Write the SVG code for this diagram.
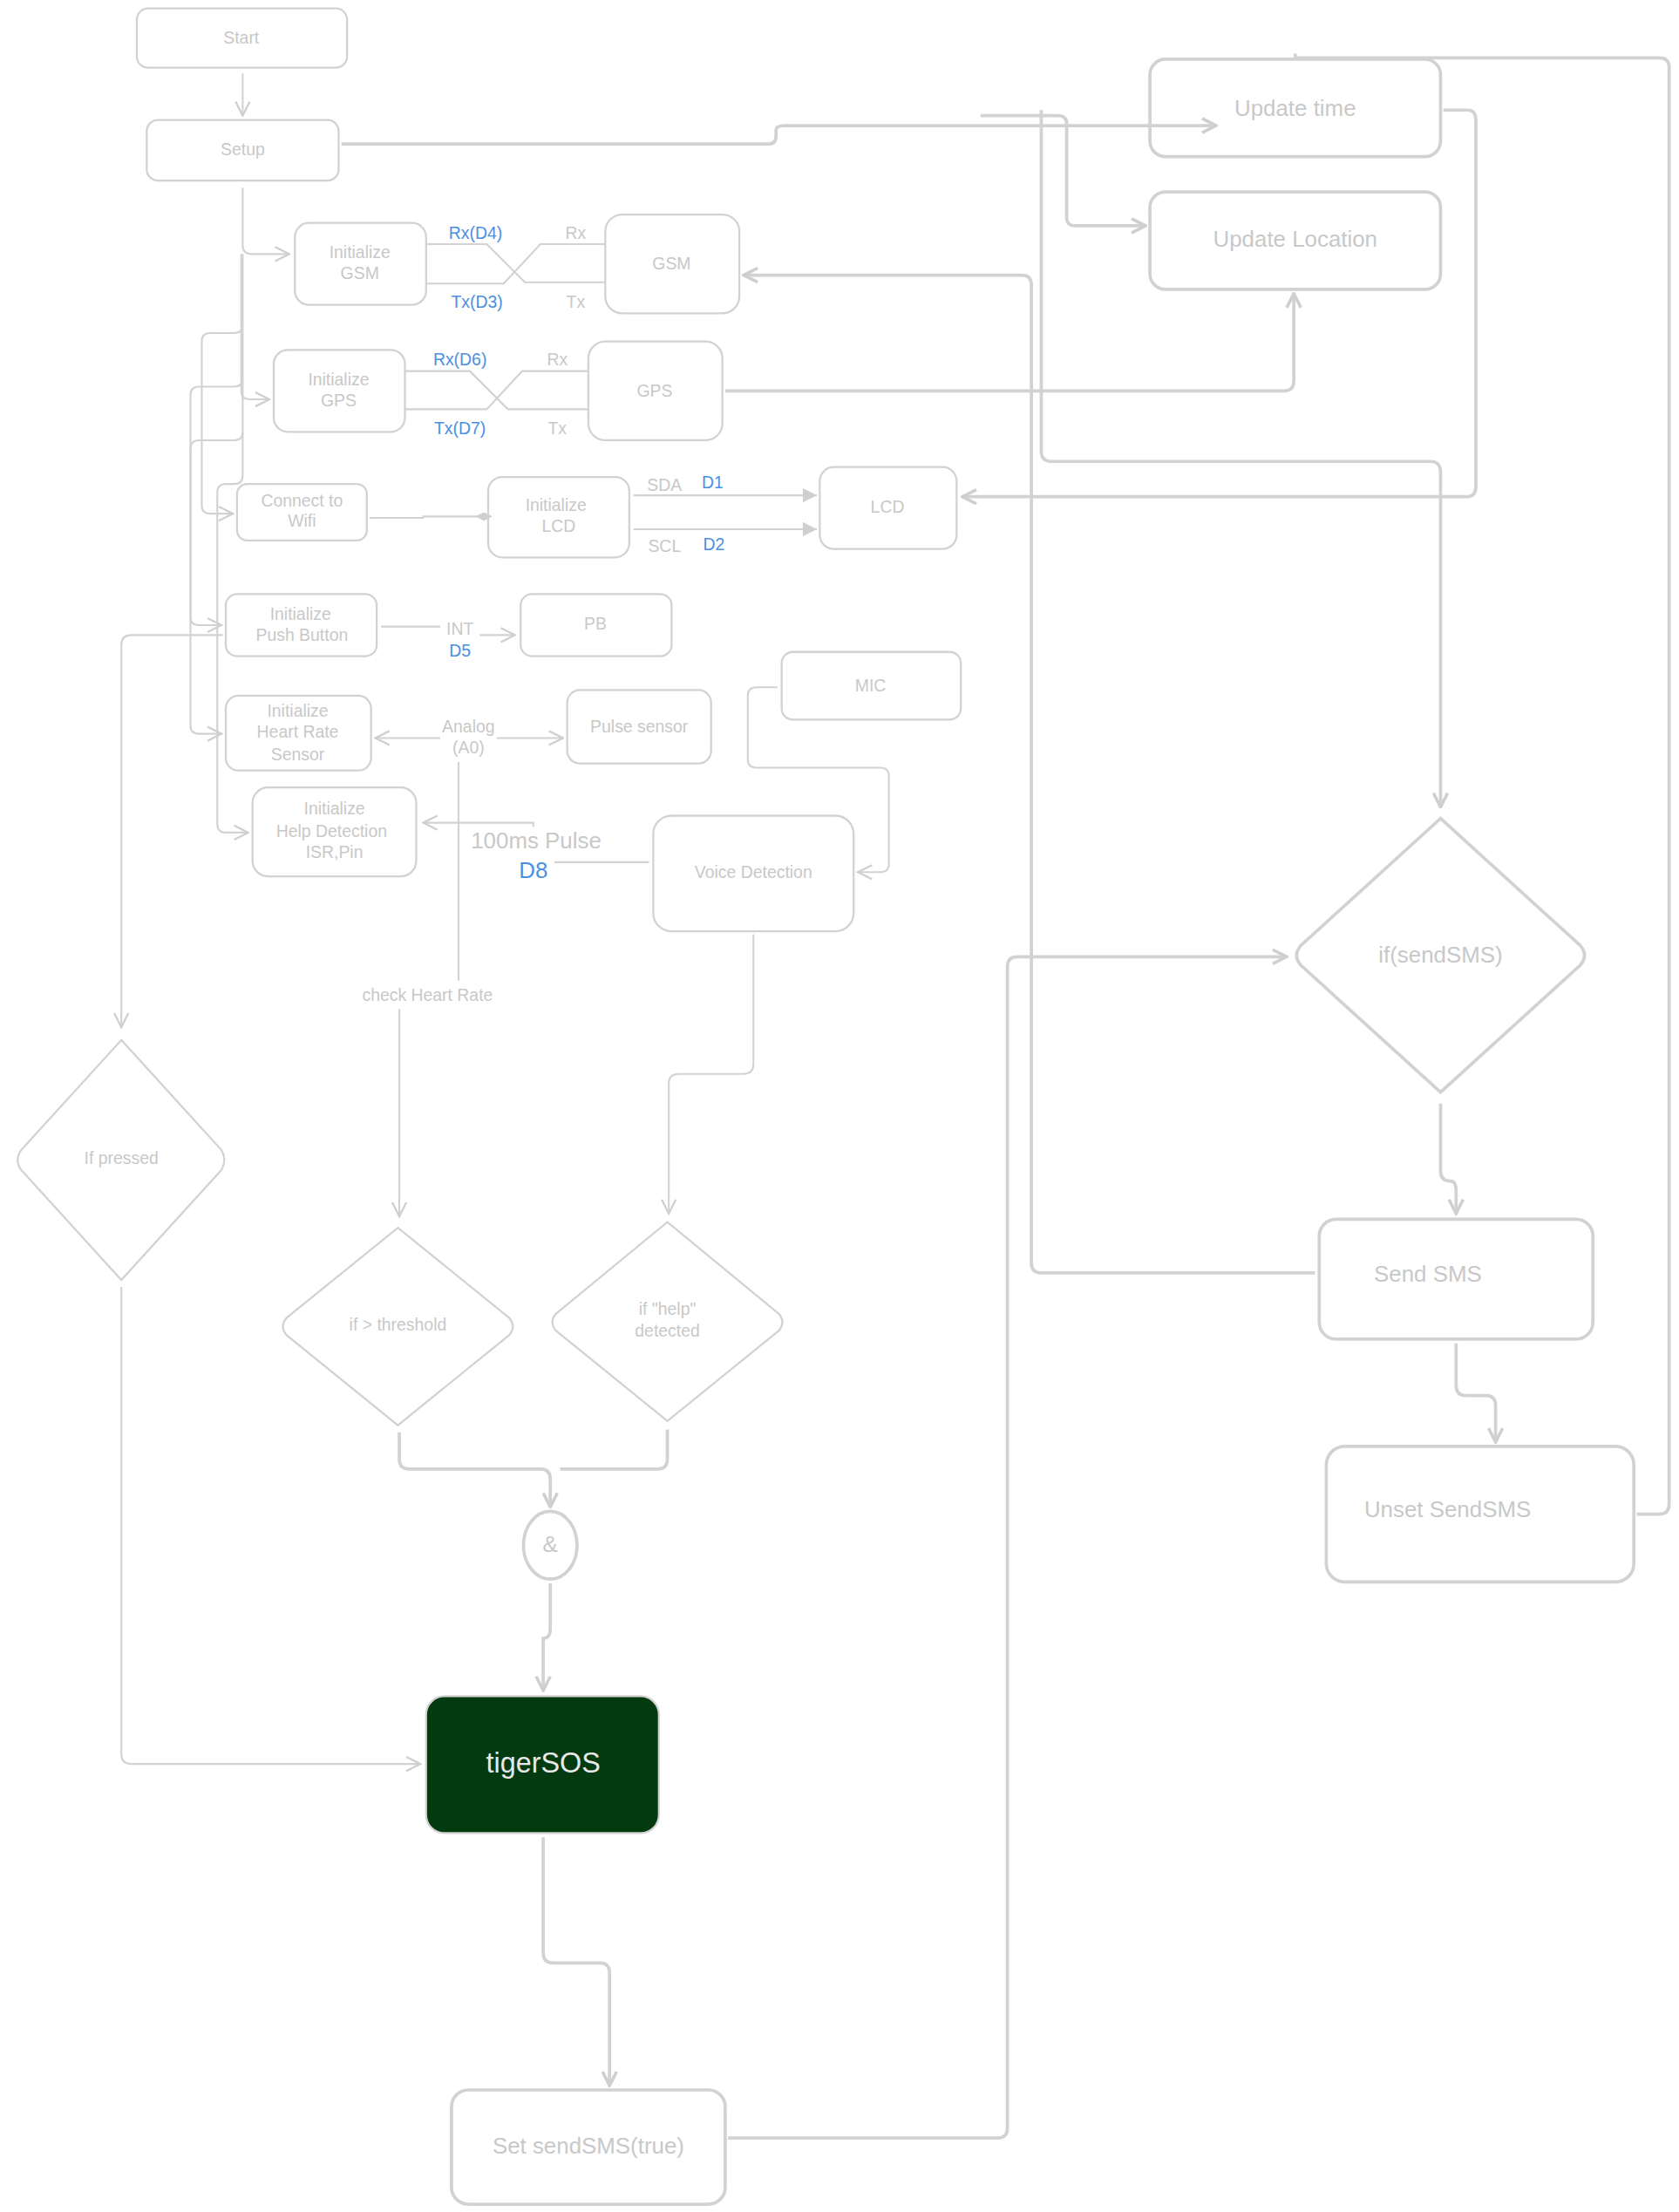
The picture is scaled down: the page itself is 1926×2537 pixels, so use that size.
<svg xmlns="http://www.w3.org/2000/svg" width="1926" height="2537" viewBox="0 0 1926 2537">
<defs>
<marker id="a" viewBox="0 0 12 12" refX="11" refY="6" markerWidth="12" markerHeight="12" markerUnits="userSpaceOnUse" orient="auto"><path d="M1,1 L11,6 L1,11" fill="none" stroke="#cfcfcf" stroke-width="1.4"/></marker>
<marker id="at" viewBox="0 0 12 12" refX="11" refY="6" markerWidth="12" markerHeight="12" markerUnits="userSpaceOnUse" orient="auto"><path d="M1,1 L11,6 L1,11" fill="none" stroke="#cfcfcf" stroke-width="2.2"/></marker>
<marker id="af" viewBox="0 0 12 12" refX="11" refY="6" markerWidth="12" markerHeight="12" markerUnits="userSpaceOnUse" orient="auto"><path d="M1,1 L11,6 L1,11Z" fill="#cfcfcf"/></marker>
<marker id="ad" viewBox="0 0 12 12" refX="6" refY="6" markerWidth="12" markerHeight="12" markerUnits="userSpaceOnUse" orient="auto"><path d="M0,6 L6,3 L12,6 L6,9Z" fill="#cfcfcf"/></marker>
</defs>
<style>
.n{fill:none;stroke:#d2d2d2;stroke-width:1.4}
.N{fill:none;stroke:#d2d2d2;stroke-width:2.3}
.c{fill:none;stroke:#d2d2d2;stroke-width:1.3}
.C{fill:none;stroke:#d2d2d2;stroke-width:2.3}
text{font-family:"Liberation Sans",Arial,sans-serif;font-size:12px;fill:#c8c8c8;text-anchor:middle}
.b{fill:#4a90e2}
.L{font-size:16px}
</style>
<rect width="1926" height="2537" fill="#fff"/>
<g transform="scale(1.6185)">
<g id="connectors">
<path class="c" d="M172,52 V82" marker-end="url(#a)"/>
<path class="C" d="M242,102 H545 Q550,102 550,96 V92 Q550,89 556,89 H862" marker-end="url(#at)"/>
<path class="C" d="M695,82 H750 Q756,82 756,88 V154 Q756,160 762,160 H812" marker-end="url(#at)"/>
<path class="C" d="M738,78 V320 Q738,327 746,327 H1014 Q1021,327 1021,335 V572" marker-end="url(#at)"/>
<path class="c" d="M172,133 V174 Q172,180 178,180 H205" marker-end="url(#a)"/>
<path class="c" d="M171,180 V277 Q171,283 177,283 H191" marker-end="url(#a)"/>
<path class="c" d="M172,230 Q172,236 166,236 H149 Q143,236 143,242 V358 Q143,364 149,364 H165" marker-end="url(#a)"/>
<path class="c" d="M172,268 Q172,274 166,274 H141 Q135,274 135,280 V437 Q135,443 141,443 H157" marker-end="url(#a)"/>
<path class="c" d="M172,306 Q172,312 166,312 H141 Q135,312 135,318 V514 Q135,520 141,520 H157" marker-end="url(#a)"/>
<path class="c" d="M172,180 V337 Q172,343 166,343 H160 Q154,343 154,349 V584 Q154,590 160,590 H176" marker-end="url(#a)"/>
<path class="c" d="M302,173 H345 L372,200 H429 M302,201 H357 L383,173 H429"/>
<path class="c" d="M287,263 H333 L360,290 H417 M287,290 H345 L370,263 H417"/>
<path class="C" d="M514,277 H910 Q917,277 917,270 V208" marker-end="url(#at)"/>
<path class="C" d="M932,902 H738 Q731,902 731,895 V202 Q731,195 724,195 H527" marker-end="url(#at)"/>
<path class="C" d="M1023,78 H1040 Q1046,78 1046,85 V345 Q1046,352 1039,352 H682" marker-end="url(#at)"/>
<path class="c" d="M262,367 H300 V366 H343" marker-end="url(#ad)"/>
<path class="c" d="M449,351 H579" marker-end="url(#af)"/>
<path class="c" d="M449,375 H579" marker-end="url(#af)"/>
<path class="c" d="M270,444 H312 M340,450 H365" marker-end="url(#a)"/>
<path class="c" d="M158,450 H93 Q86,450 86,457 V728" marker-end="url(#a)"/>
<path class="c" d="M312,523 H266" marker-end="url(#a)"/>
<path class="c" d="M352,523 H399" marker-end="url(#a)"/>
<path class="c" d="M325,540 V695 M283,715 V862" marker-end="url(#a)"/>
<path class="c" d="M378,586 V583 H300" marker-end="url(#a)"/>
<path class="c" d="M460,611 H393"/>
<path class="c" d="M551,487 H536 Q530,487 530,493 V538 Q530,544 536,544 H624 Q630,544 630,550 V612 Q630,618 624,618 H608" marker-end="url(#a)"/>
<path class="c" d="M534,662 V754 Q534,761 527,761 H481 Q474,761 474,768 V860" marker-end="url(#a)"/>
<path class="C" d="M283,1015 V1034 Q283,1041 290,1041 H383 Q390,1041 390,1048 V1068" marker-end="url(#at)"/>
<path class="C" d="M473,1013 V1034 Q473,1041 466,1041 H397"/>
<path class="C" d="M390,1122 V1154 Q390,1161 385,1161 V1198" marker-end="url(#at)"/>
<path class="c" d="M86,912 V1243 Q86,1250 93,1250 H298" marker-end="url(#a)"/>
<path class="C" d="M385,1302 V1384 Q385,1391 392,1391 H425 Q432,1391 432,1398 V1478" marker-end="url(#at)"/>
<path class="C" d="M516,1515 H707 Q714,1515 714,1508 V685 Q714,678 721,678 H912" marker-end="url(#at)"/>
<path class="C" d="M1021,782 V830 Q1021,837 1028,837 Q1032,837 1032,844 V860" marker-end="url(#at)"/>
<path class="C" d="M1032,952 V982 Q1032,989 1039,989 H1053 Q1060,989 1060,996 V1022" marker-end="url(#at)"/>
<path class="C" d="M1160,1073 H1176 Q1183,1073 1183,1066 V48 Q1183,41 1176,41 H918 V38"/>
</g>
<g id="labels">
<text class="b" x="337" y="169">Rx(D4)</text><text x="408" y="169">Rx</text>
<text class="b" x="338" y="218">Tx(D3)</text><text x="408" y="218">Tx</text>
<text class="b" x="326" y="259">Rx(D6)</text><text x="395" y="259">Rx</text>
<text class="b" x="326" y="308">Tx(D7)</text><text x="395" y="308">Tx</text>
<text x="471" y="348">SDA</text><text class="b" x="505" y="346">D1</text>
<text x="471" y="391">SCL</text><text class="b" x="506" y="390">D2</text>
<text x="326" y="450">INT</text><text class="b" x="326" y="465">D5</text>
<text x="332" y="519">Analog</text><text x="332" y="534">(A0)</text>
<text x="303" y="709">check Heart Rate</text>
<text class="L" x="380" y="601">100ms Pulse</text><text class="b L" x="378" y="622">D8</text>
</g>
<g id="start"><rect class="n" x="97" y="6" width="149" height="42" rx="8"/><text x="171" y="31">Start</text></g>
<g id="setup"><rect class="n" x="104" y="85" width="136" height="43" rx="8"/><text x="172" y="110">Setup</text></g>
<g id="initgsm"><rect class="n" x="209" y="158" width="93" height="58" rx="10"/><text x="255" y="183">Initialize</text><text x="255" y="198">GSM</text></g>
<g id="gsm"><rect class="n" x="429" y="152" width="95" height="70" rx="12"/><text x="476" y="191">GSM</text></g>
<g id="initgps"><rect class="n" x="194" y="248" width="93" height="58" rx="10"/><text x="240" y="273">Initialize</text><text x="240" y="288">GPS</text></g>
<g id="gps"><rect class="n" x="417" y="242" width="95" height="70" rx="12"/><text x="464" y="281">GPS</text></g>
<g id="wifi"><rect class="n" x="168" y="343" width="92" height="40" rx="7"/><text x="214" y="359">Connect to</text><text x="214" y="373">Wifi</text></g>
<g id="initlcd"><rect class="n" x="346" y="338" width="100" height="57" rx="10"/><text x="394" y="362">Initialize</text><text x="396" y="377">LCD</text></g>
<g id="lcd"><rect class="n" x="581" y="331" width="97" height="58" rx="10"/><text x="629" y="363">LCD</text></g>
<g id="initpb"><rect class="n" x="160" y="421" width="107" height="44" rx="8"/><text x="213" y="439">Initialize</text><text x="214" y="454">Push Button</text></g>
<g id="pb"><rect class="n" x="369" y="421" width="107" height="44" rx="8"/><text x="422" y="446">PB</text></g>
<g id="mic"><rect class="n" x="554" y="462" width="127" height="48" rx="8"/><text x="617" y="490">MIC</text></g>
<g id="inithr"><rect class="n" x="160" y="493" width="103" height="53" rx="9"/><text x="211" y="508">Initialize</text><text x="211" y="523">Heart Rate</text><text x="211" y="539">Sensor</text></g>
<g id="pulse"><rect class="n" x="402" y="489" width="102" height="52" rx="9"/><text x="453" y="519">Pulse sensor</text></g>
<g id="inithelp"><rect class="n" x="179" y="558" width="116" height="63" rx="11"/><text x="237" y="577">Initialize</text><text x="235" y="593">Help Detection</text><text x="237" y="608">ISR,Pin</text></g>
<g id="voice"><rect class="n" x="463" y="578" width="142" height="82" rx="13"/><text x="534" y="622">Voice Detection</text></g>
<g id="updatetime"><rect class="N" x="815" y="42" width="206" height="69" rx="11"/><text class="L" x="918" y="82">Update time</text></g>
<g id="updateloc"><rect class="N" x="815" y="136" width="206" height="69" rx="11"/><text class="L" x="918" y="175">Update Location</text></g>
<g id="ifsend"><path class="N" d="M1021,580 L1120,670 Q1126,677 1120,684 L1021,774 L922,684 Q916,677 922,670Z"/><text class="L" x="1021" y="682">if(sendSMS)</text></g>
<g id="sendsms"><rect class="N" x="935" y="864" width="194" height="85" rx="12"/><text class="L" x="1012" y="908">Send SMS</text></g>
<g id="unset"><rect class="N" x="940" y="1025" width="218" height="96" rx="13"/><text class="L" x="1026" y="1075">Unset SendSMS</text></g>
<g id="ifpressed"><path class="n" d="M86,737 L157,815 Q161,822 157,829 L86,907 L15,829 Q10,822 15,815Z"/><text x="86" y="825">If pressed</text></g>
<g id="ifthr"><path class="n" d="M282,870 L361,934 Q366,940 361,946 L282,1010 L203,946 Q198,940 203,934Z"/><text x="282" y="943">if &gt; threshold</text></g>
<g id="ifhelp"><path class="n" d="M473,866 L552,931 Q557,937 552,943 L473,1007 L394,943 Q389,937 394,931Z"/><text x="473" y="932">if "help"</text><text x="473" y="947">detected</text></g>
<g id="and"><ellipse class="N" cx="390" cy="1095" rx="19" ry="24"/><text class="L" x="390" y="1100">&amp;</text></g>
<g id="tigersos"><rect x="302" y="1202" width="165" height="97" rx="13" fill="#043a10" stroke="#d2d2d2" stroke-width="1.4"/><text x="385" y="1256" style="font-size:20px;fill:#e8e8e8">tigerSOS</text></g>
<g id="setsend"><rect class="N" x="320" y="1481" width="194" height="81" rx="12"/><text class="L" x="417" y="1526">Set sendSMS(true)</text></g>
</g>
</svg>
